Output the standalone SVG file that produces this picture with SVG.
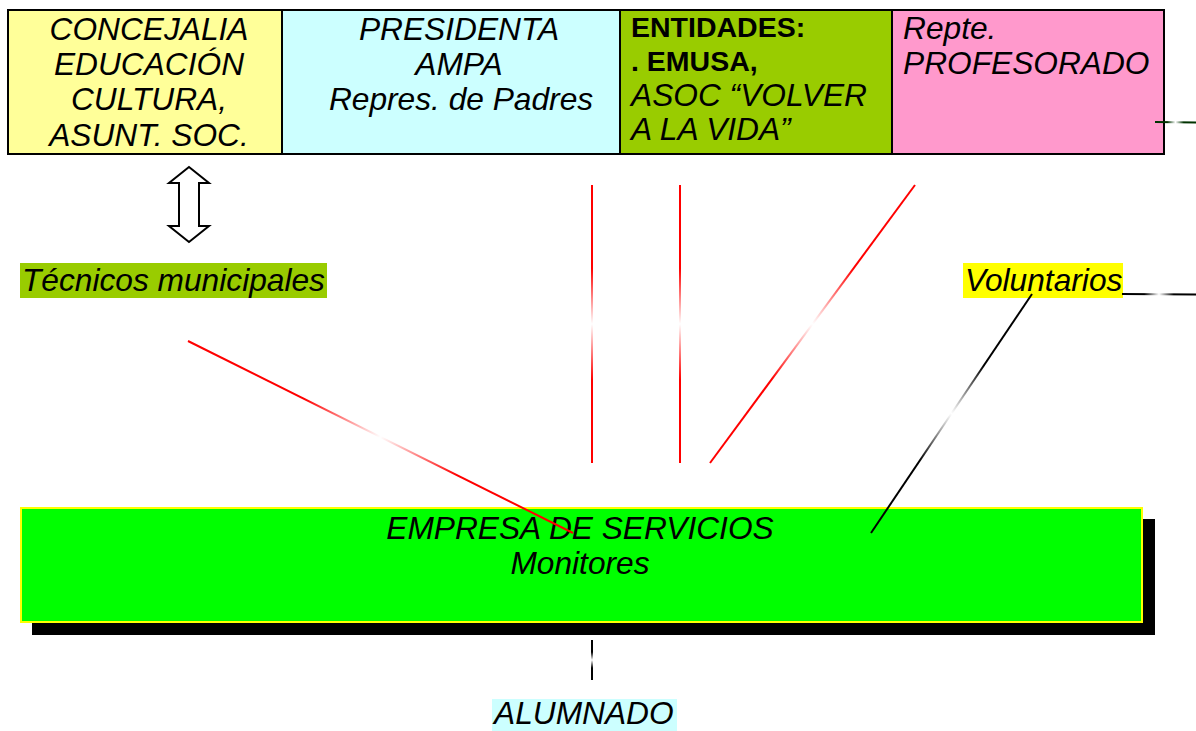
<svg xmlns="http://www.w3.org/2000/svg" width="1196" height="731" viewBox="0 0 1196 731">
<style>
.t{font-family:"Liberation Sans",Arial,sans-serif;font-size:31.7px;fill:#000}
.i{font-style:italic}
.b{font-weight:bold;font-size:28.5px}
.m{text-anchor:middle}
.cell{stroke:#000;stroke-width:2}
</style>
<defs>
<linearGradient id="g1" gradientUnits="userSpaceOnUse" x1="592" y1="185" x2="592" y2="463"><stop offset="0" stop-color="#f00"/><stop offset="0.3" stop-color="#f00"/><stop offset="0.5" stop-color="#fff"/><stop offset="0.7" stop-color="#f00"/><stop offset="1" stop-color="#f00"/></linearGradient>
<linearGradient id="g2" gradientUnits="userSpaceOnUse" x1="680" y1="185" x2="680" y2="463"><stop offset="0" stop-color="#f00"/><stop offset="0.3" stop-color="#f00"/><stop offset="0.5" stop-color="#fff"/><stop offset="0.7" stop-color="#f00"/><stop offset="1" stop-color="#f00"/></linearGradient>
<linearGradient id="g3" gradientUnits="userSpaceOnUse" x1="915" y1="185" x2="710" y2="463"><stop offset="0" stop-color="#f00"/><stop offset="0.3" stop-color="#f00"/><stop offset="0.5" stop-color="#fff"/><stop offset="0.7" stop-color="#f00"/><stop offset="1" stop-color="#f00"/></linearGradient>
<linearGradient id="g4" gradientUnits="userSpaceOnUse" x1="188" y1="341" x2="573" y2="533"><stop offset="0" stop-color="#f00"/><stop offset="0.3" stop-color="#f00"/><stop offset="0.5" stop-color="#fff"/><stop offset="0.7" stop-color="#f00"/><stop offset="1" stop-color="#f00"/></linearGradient>
<linearGradient id="g5" gradientUnits="userSpaceOnUse" x1="1032" y1="294" x2="871" y2="533"><stop offset="0" stop-color="#000"/><stop offset="0.3" stop-color="#000"/><stop offset="0.5" stop-color="#fff"/><stop offset="0.7" stop-color="#000"/><stop offset="1" stop-color="#000"/></linearGradient>
<linearGradient id="g6" gradientUnits="userSpaceOnUse" x1="592" y1="640" x2="592" y2="680"><stop offset="0" stop-color="#000"/><stop offset="0.3" stop-color="#000"/><stop offset="0.5" stop-color="#fff"/><stop offset="0.7" stop-color="#000"/><stop offset="1" stop-color="#000"/></linearGradient>
<linearGradient id="g7" gradientUnits="userSpaceOnUse" x1="1155" y1="122" x2="1196" y2="122"><stop offset="0" stop-color="#030"/><stop offset="0.3" stop-color="#030"/><stop offset="0.5" stop-color="#fff"/><stop offset="0.7" stop-color="#030"/><stop offset="1" stop-color="#030"/></linearGradient>
<linearGradient id="g8" gradientUnits="userSpaceOnUse" x1="1122" y1="294" x2="1196" y2="294"><stop offset="0" stop-color="#000"/><stop offset="0.3" stop-color="#000"/><stop offset="0.5" stop-color="#fff"/><stop offset="0.7" stop-color="#000"/><stop offset="1" stop-color="#000"/></linearGradient>
</defs>
<rect width="1196" height="731" fill="#fff"/>

<g id="concejalia">
<rect class="cell" x="8" y="10" width="274" height="144" fill="#FFFF99"/>
<text class="t i m" x="149" y="40">CONCEJALIA</text>
<text class="t i m" x="149" y="75">EDUCACIÓN</text>
<text class="t i m" x="149" y="110">CULTURA,</text>
<text class="t i m" x="149" y="146">ASUNT. SOC.</text>
</g>
<g id="presidenta">
<rect class="cell" x="282" y="10" width="338" height="144" fill="#CCFFFF"/>
<text class="t i m" x="459" y="40">PRESIDENTA</text>
<text class="t i m" x="459" y="75">AMPA</text>
<text class="t i m" x="461" y="110">Repres. de Padres</text>
</g>
<g id="entidades">
<rect class="cell" x="620" y="10" width="272" height="144" fill="#99CC00"/>
<text class="t b" x="631" y="37">ENTIDADES:</text>
<text class="t b" x="631" y="71">. EMUSA,</text>
<text class="t i" x="631" y="106">ASOC “VOLVER</text>
<text class="t i" x="631" y="140">A LA VIDA”</text>
</g>
<g id="profesorado">
<rect class="cell" x="892" y="10" width="272" height="144" fill="#FF99CC"/>
<text class="t i" x="903" y="39">Repte.</text>
<text class="t i" x="903" y="74">PROFESORADO</text>
</g>

<g id="arrow">
<polygon points="189,167 209,183 199,183 199,226 209,226 189,242 169,226 179,226 179,183 169,183" fill="#fff" stroke="#000" stroke-width="2" stroke-linejoin="miter"/>
</g>

<g id="tecnicos">
<rect x="20" y="263" width="307" height="35" fill="#99CC00"/>
<text class="t i" x="22" y="291">Técnicos municipales</text>
</g>
<g id="voluntarios">
<rect x="963" y="263" width="160" height="35" fill="#FFFF00"/>
<text class="t i" x="965" y="291">Voluntarios</text>
</g>

<g id="empresa">
<rect x="32" y="519" width="1123" height="116" fill="#000"/>
<rect x="21" y="508" width="1121" height="114" fill="#00FF00" stroke="#FFFF00" stroke-width="2"/>
<text class="t i m" x="580" y="539">EMPRESA DE SERVICIOS</text>
<text class="t i m" x="580" y="574">Monitores</text>
</g>

<g id="alumnado">
<rect x="492" y="699" width="185" height="32" fill="#CCFFFF"/>
<text class="t i" x="494" y="724">ALUMNADO</text>
</g>

<g id="connectors" fill="none" stroke-width="2">
<line x1="592" y1="185" x2="592" y2="463" stroke="url(#g1)"/>
<line x1="680" y1="185" x2="680" y2="463" stroke="url(#g2)"/>
<line x1="915" y1="185" x2="710" y2="463" stroke="url(#g3)"/>
<line x1="188" y1="341" x2="573" y2="533" stroke="url(#g4)"/>
<line x1="1032" y1="294" x2="871" y2="533" stroke="url(#g5)"/>
<line x1="592" y1="640" x2="592" y2="680" stroke="url(#g6)"/>
<line x1="1155" y1="122" x2="1196" y2="122.5" stroke="url(#g7)"/>
<line x1="1122" y1="294" x2="1196" y2="294.5" stroke="url(#g8)"/>
</g>
</svg>
